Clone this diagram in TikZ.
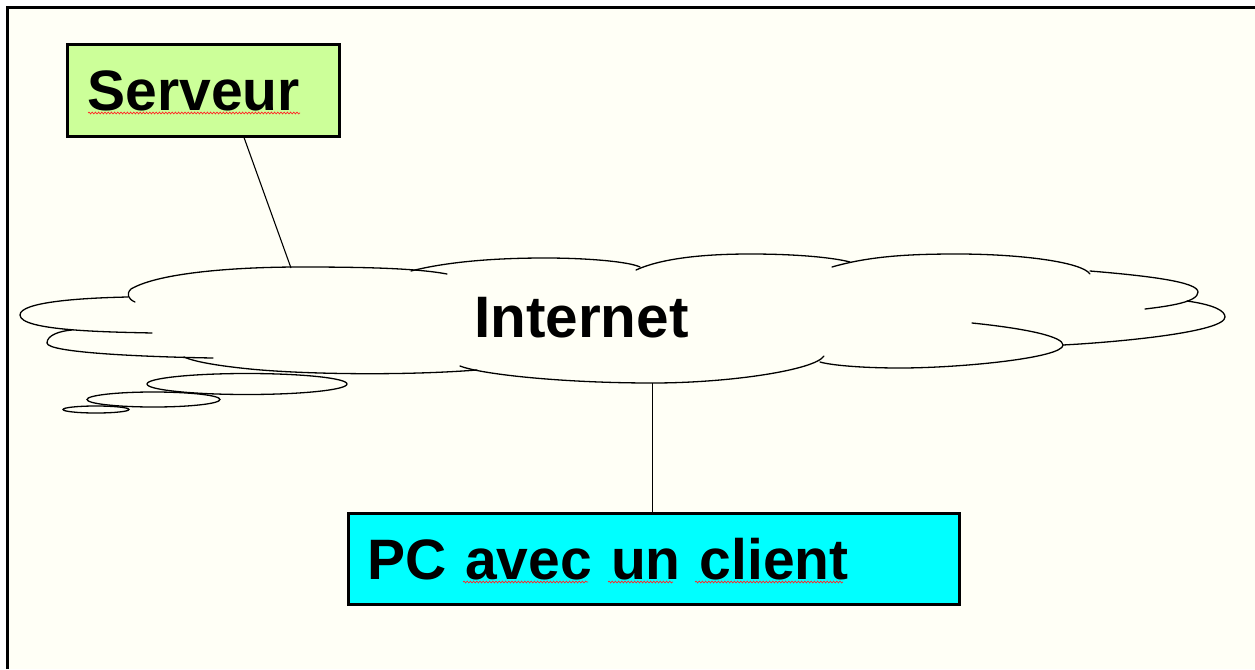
\documentclass[tikz,border=0pt]{standalone}
\usepackage{fontspec}
\setmainfont{Liberation Sans}
\usetikzlibrary{calc,decorations.pathmorphing}
\definecolor{cream}{HTML}{FFFFF6}
\definecolor{servgreen}{HTML}{CCFF99}
\definecolor{pccyan}{HTML}{00FFFF}
\tikzset{
  labelbox/.style={draw=black, line width=3pt, rectangle, inner ysep=0pt, align=left,
    font=\fontsize{57}{60}\selectfont\bfseries},
  cloudline/.style={draw=black, line width=1.3pt, line cap=round},
  link/.style={draw=black, line width=1.1pt},
  spell/.style={draw=red!85!white, line width=0.7pt, decorate,
    decoration={snake, amplitude=0.9pt, segment length=3.2pt}},
  bubble/.style={draw=black, line width=1.3pt}
}
\begin{document}
\begin{tikzpicture}[x=1pt,y=-1pt]
\useasboundingbox (0,0) rectangle (1255,669);
\fill[white] (0,0) rectangle (1255,669);
\fill[cream] (7.5,7.5) rectangle (1255,669);
\draw[line width=2.5pt] (7.5,669) -- (7.5,7.5) -- (1255,7.5);

% cloud bumps
\path[cloudline] (152,333) .. controls (110,332) and (20,331) .. (20,315)
  .. controls (20,302) and (80,298) .. (128,297);
\path[cloudline] (135,302) .. controls (128,299) and (126,294) .. (131,289)
  .. controls (160,272) and (240,267) .. (300,267)
  .. controls (360,267) and (415,268) .. (447,274);
\path[cloudline] (411,271) .. controls (450,261) and (500,258) .. (545,258)
  .. controls (590,258) and (630,262) .. (640,267);
\path[cloudline] (636,270) .. controls (660,259) and (700,254) .. (750,254)
  .. controls (800,254) and (835,258) .. (850,262);
\path[cloudline] (832,267) .. controls (870,256) and (910,254) .. (957,254)
  .. controls (1020,254) and (1082,262) .. (1090,274);
\path[cloudline] (1090,271) .. controls (1150,276) and (1198,282) .. (1198,292)
  .. controls (1198,302) and (1170,306) .. (1145,309);
\path[cloudline] (1187,301) .. controls (1215,305) and (1225,311) .. (1225,317)
  .. controls (1225,332) and (1120,342) .. (1063,345);
\path[cloudline] (972,323) .. controls (1030,329) and (1063,337) .. (1063,345)
  .. controls (1063,358) and (960,368) .. (900,368)
  .. controls (860,368) and (830,365) .. (820,362);
\path[cloudline] (824,356) .. controls (815,370) and (730,383) .. (652.5,383)
  .. controls (560,383) and (480,374) .. (460,366);
\path[cloudline] (477,370) .. controls (400,376) and (300,374) .. (250,369)
  .. controls (220,366) and (195,362) .. (184,357);
\path[cloudline] (213,358) .. controls (150,357) and (47,353) .. (47,343)
  .. controls (47,335) and (60,331) .. (72,330);

% thought bubbles
\draw[bubble] (247,384) ellipse [x radius=100, y radius=10.5];
\draw[bubble] (153.5,399.5) ellipse [x radius=66.5, y radius=7.5];
\draw[bubble] (96,409.5) ellipse [x radius=33, y radius=3.5];

\coordinate (cloudtop) at (291,268);
\coordinate (cloudbot) at (652.5,383);

\node[font=\fontsize{58.5}{60}\selectfont\bfseries, inner sep=0pt, anchor=base west]
  (internet) at (474,337) {Internet};

\node[labelbox, fill=servgreen, anchor=north west, inner xsep=20pt,
  text width=232pt, minimum height=92pt] (serveur) at (66,43) {Serveur};

\node[labelbox, fill=pccyan, anchor=north west, inner xsep=18.6pt,
  text width=573.8pt, minimum height=91pt] (pc) at (347,512) {PC avec un client};

% spell-check underlines
\draw[spell] (88,113) -- (300,113);
\draw[spell] (463,582) -- (588,582);
\draw[spell] (608,582) -- (673,582);
\draw[spell] (695,582) -- (843,582);

% connectors
\draw[link] ($(serveur.south west)!0.648!(serveur.south east)$) -- (cloudtop);
\draw[link] (cloudbot) -- (cloudbot |- pc.north);
\end{tikzpicture}
\end{document}
